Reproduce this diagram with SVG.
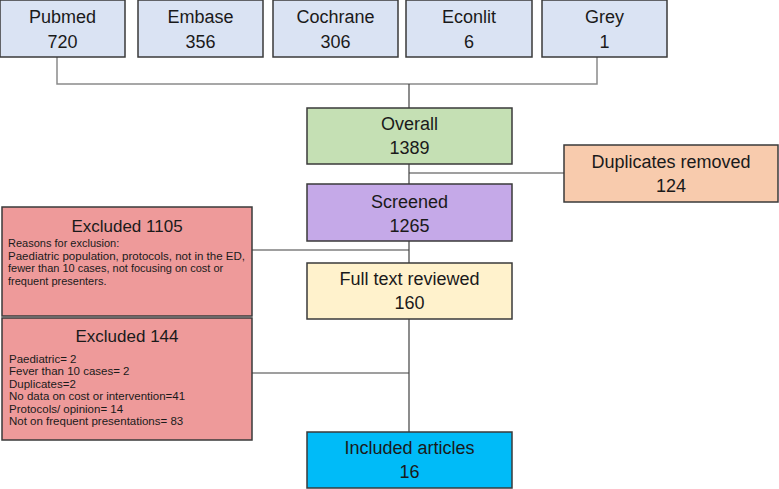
<svg xmlns="http://www.w3.org/2000/svg" width="779" height="489" viewBox="0 0 779 489">
<style>
.box{stroke:#3a3a3a;stroke-width:1.5}
.src{fill:#dae3f3}
.t{font-family:"Liberation Sans",Arial,sans-serif;font-size:18px;fill:#1a1a1a;text-anchor:middle}
.h{font-family:"Liberation Sans",Arial,sans-serif;font-size:17px;fill:#1a1a1a;text-anchor:middle}
.s{font-family:"Liberation Sans",Arial,sans-serif;font-size:11px;fill:#1a1a1a}
.s2{font-family:"Liberation Sans",Arial,sans-serif;font-size:11.5px;fill:#1a1a1a}
.c{fill:none;stroke:#404040;stroke-width:1.2}
.cg{fill:none;stroke:#8a8a8a;stroke-width:1.5}
</style>
<rect width="779" height="489" fill="#ffffff"/>
<g id="connectors">
<polyline class="cg" points="57,57 57,84 597,84 597,57"/>
<line class="c" x1="409" y1="84" x2="409" y2="108"/>
<line class="c" x1="409" y1="164" x2="409" y2="184"/>
<line class="c" x1="409" y1="173" x2="564" y2="173"/>
<line class="c" x1="409" y1="241" x2="409" y2="263"/>
<line class="c" x1="252" y1="250" x2="409" y2="250"/>
<line class="c" x1="409" y1="319" x2="409" y2="432"/>
<line class="c" x1="252" y1="373" x2="409" y2="373"/>
</g>
<g id="pubmed">
<rect class="box src" x="0" y="0" width="125" height="57"/>
<text class="t" x="62.5" y="23">Pubmed</text>
<text class="t" x="62.5" y="47.5">720</text>
</g>
<g id="embase">
<rect class="box src" x="138" y="0" width="125" height="57"/>
<text class="t" x="200.5" y="23">Embase</text>
<text class="t" x="200.5" y="47.5">356</text>
</g>
<g id="cochrane">
<rect class="box src" x="273" y="0" width="125" height="57"/>
<text class="t" x="335.5" y="23">Cochrane</text>
<text class="t" x="335.5" y="47.5">306</text>
</g>
<g id="econlit">
<rect class="box src" x="406" y="0" width="126" height="57"/>
<text class="t" x="469" y="23">Econlit</text>
<text class="t" x="469" y="47.5">6</text>
</g>
<g id="grey">
<rect class="box src" x="542" y="0" width="125" height="57"/>
<text class="t" x="604.5" y="23">Grey</text>
<text class="t" x="604.5" y="47.5">1</text>
</g>
<g id="overall">
<rect class="box" x="307" y="108" width="205" height="56" fill="#c5e0b4"/>
<text class="t" x="409.5" y="130">Overall</text>
<text class="t" x="409.5" y="154">1389</text>
</g>
<g id="duplicates">
<rect class="box" x="564" y="145" width="214" height="57" fill="#f8cbad"/>
<text class="t" x="671" y="167.5">Duplicates removed</text>
<text class="t" x="671" y="191.5">124</text>
</g>
<g id="screened">
<rect class="box" x="307" y="184" width="205" height="57" fill="#c5a9e8"/>
<text class="t" x="409.5" y="208">Screened</text>
<text class="t" x="409.5" y="231.5">1265</text>
</g>
<g id="excluded1105">
<rect class="box" x="2" y="207" width="250" height="109" fill="#ee9a9a"/>
<text class="h" x="127" y="231.5">Excluded 1105</text>
<text class="s" x="8" y="247">Reasons for exclusion:</text>
<text class="s" x="8" y="259.5" textLength="237" lengthAdjust="spacingAndGlyphs">Paediatric population, protocols, not in the ED,</text>
<text class="s" x="8" y="272">fewer than 10 cases, not focusing on cost or</text>
<text class="s" x="8" y="284.5">frequent presenters.</text>
</g>
<g id="fulltext">
<rect class="box" x="307" y="263" width="205" height="56" fill="#fff2cc"/>
<text class="t" x="409.5" y="285">Full text reviewed</text>
<text class="t" x="409.5" y="309">160</text>
</g>
<g id="excluded144">
<rect class="box" x="2" y="318" width="250" height="122" fill="#ee9a9a"/>
<text class="h" x="127" y="341.5">Excluded 144</text>
<text class="s2" x="9" y="362.5">Paediatric= 2</text>
<text class="s2" x="9" y="375">Fever than 10 cases= 2</text>
<text class="s2" x="9" y="387.5">Duplicates=2</text>
<text class="s2" x="9" y="400">No data on cost or intervention=41</text>
<text class="s2" x="9" y="412.5">Protocols/ opinion= 14</text>
<text class="s2" x="9" y="425">Not on frequent presentations= 83</text>
</g>
<g id="included">
<rect class="box" x="307" y="432" width="205" height="56" fill="#00bbf8"/>
<text class="t" x="409.5" y="454">Included articles</text>
<text class="t" x="409.5" y="478">16</text>
</g>
</svg>
